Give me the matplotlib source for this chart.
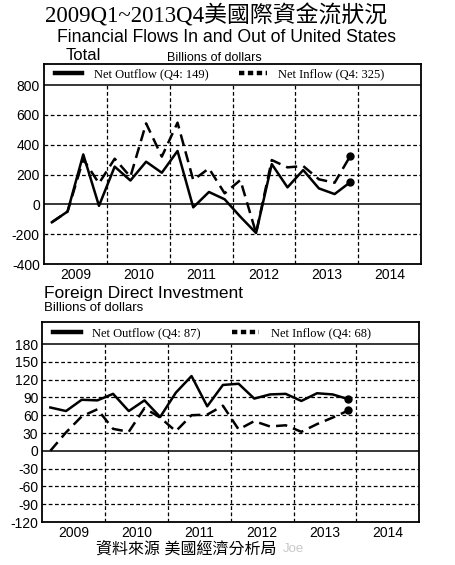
import numpy as np
import matplotlib
matplotlib.use("Agg")
import matplotlib.pyplot as plt
from matplotlib.lines import Line2D

# quarters 2009Q1 .. 2013Q4
years = [2009, 2010, 2011, 2012, 2013]
year_labels = ["2009", "2010", "2011", "2012", "2013", "2014"]

total_out = [-120, -48, 335, -10, 253, 160, 286, 212, 358, -20, 83, 34,
             -83, -192, 270, 114, 230, 107, 69, 149]
total_in = [-120, -48, 302, 141, 306, 185, 543, 320, 548, 163, 241, 74,
            163, -192, 297, 248, 257, 168, 145, 325]

fdi_out = [73, 67, 86, 85, 96, 67, 85, 57, 98, 126, 75, 111,
           113, 88, 95, 96, 84, 97, 95, 87]
fdi_in = [0, 31, 58, 70, 37, 32, 72, 56, 33, 60, 61, 76,
          36, 50, 41, 43, 32, 45, 56, 68]

total_ticks = [-400, -200, 0, 200, 400, 600, 800]
fdi_ticks = [-120, -90, -60, -30, 0, 30, 60, 90, 120, 150, 180]

x = np.array([y + (q - 0.5) / 4 for y in years for q in range(1, 5)])

serif = ["Liberation Serif", "Noto Sans CJK TC"]
sans = ["Liberation Sans", "Noto Sans CJK TC"]

fig = plt.figure(figsize=(4.55, 5.65), dpi=100)


def panel(ax, out, inn, ticks, top, band, out_label, in_label):
    lo, hi = ticks[0], ticks[-1]
    ax.set_xlim(2009, 2015)
    ax.set_ylim(lo, top)
    for t in ticks[1:-1]:
        if t == 0:
            ax.axhline(0, color="black", lw=1.1)
        else:
            ax.axhline(t, color="black", lw=0.9, ls=(0, (3, 2)))
    ax.axhline(hi, color="black", lw=1.1)
    ax.vlines(np.arange(2010, 2015), lo, hi, color="black", lw=0.9, linestyles=[(0, (3, 2))])
    ax.plot(x, out, color="black", lw=1.8)
    ax.plot(x, inn, color="black", lw=1.8, ls=(0, (4.5, 2.5)))
    ax.plot(x[-1], out[-1], "o", color="black", ms=5)
    ax.plot(x[-1], inn[-1], "o", color="black", ms=5)
    ax.set_yticks(ticks)
    ax.set_yticklabels([str(t) for t in ticks], family=sans, fontsize=10)
    ax.set_xticks(np.arange(2009, 2015) + 0.5)
    ax.set_xticklabels(year_labels, family=sans, fontsize=10)
    ax.tick_params(length=0, pad=3)
    for s in ax.spines.values():
        s.set_linewidth(1.3)
    handles = [Line2D([], [], color="black", lw=3.2),
               Line2D([], [], color="black", lw=3.2, ls=(0, (1.2, 0.8)))]
    ax.legend(handles, [out_label, in_label], ncol=2, loc="center left",
              bbox_to_anchor=(0.012, band), frameon=False,
              prop={"family": serif, "size": 9.0}, handlelength=2.2,
              columnspacing=2.5, handletextpad=0.9, borderpad=0)


ax1 = fig.add_axes([0.0967, 0.5327, 0.8286, 0.354])
panel(ax1, total_out, total_in, total_ticks, 941, 0.947,
      "Net Outflow (Q4: 149)", "Net Inflow (Q4: 325)")

ax2 = fig.add_axes([0.0934, 0.0761, 0.8275, 0.3539])
panel(ax2, fdi_out, fdi_in, fdi_ticks, 217, 0.945,
      "Net Outflow (Q4: 87)", "Net Inflow (Q4: 68)")

fig.text(0.474, 0.972, "2009Q1~2013Q4美國際資金流狀況", family=serif,
         fontsize=16.5, ha="center", va="center")
fig.text(0.125, 0.933, "Financial Flows In and Out of United States",
         family=sans, fontsize=12.7, ha="left", va="center")
fig.text(0.145, 0.901, "Total", family=sans, fontsize=12, ha="left", va="center")
fig.text(0.367, 0.897, "Billions of dollars", family=sans, fontsize=9, ha="left", va="center")
fig.text(0.097, 0.480, "Foreign Direct Investment", family=sans, fontsize=12.5,
         ha="left", va="center")
fig.text(0.097, 0.455, "Billions of dollars", family=sans, fontsize=9.5,
         ha="left", va="center")
fig.text(0.211, 0.028, "資料來源 美國經濟分析局", family=sans, fontsize=11.5,
         ha="left", va="center")
fig.text(0.622, 0.028, "Joe", family=sans, fontsize=9.5, color="#c8c8c8",
         ha="left", va="center")

fig.savefig("out.png", dpi=100)
